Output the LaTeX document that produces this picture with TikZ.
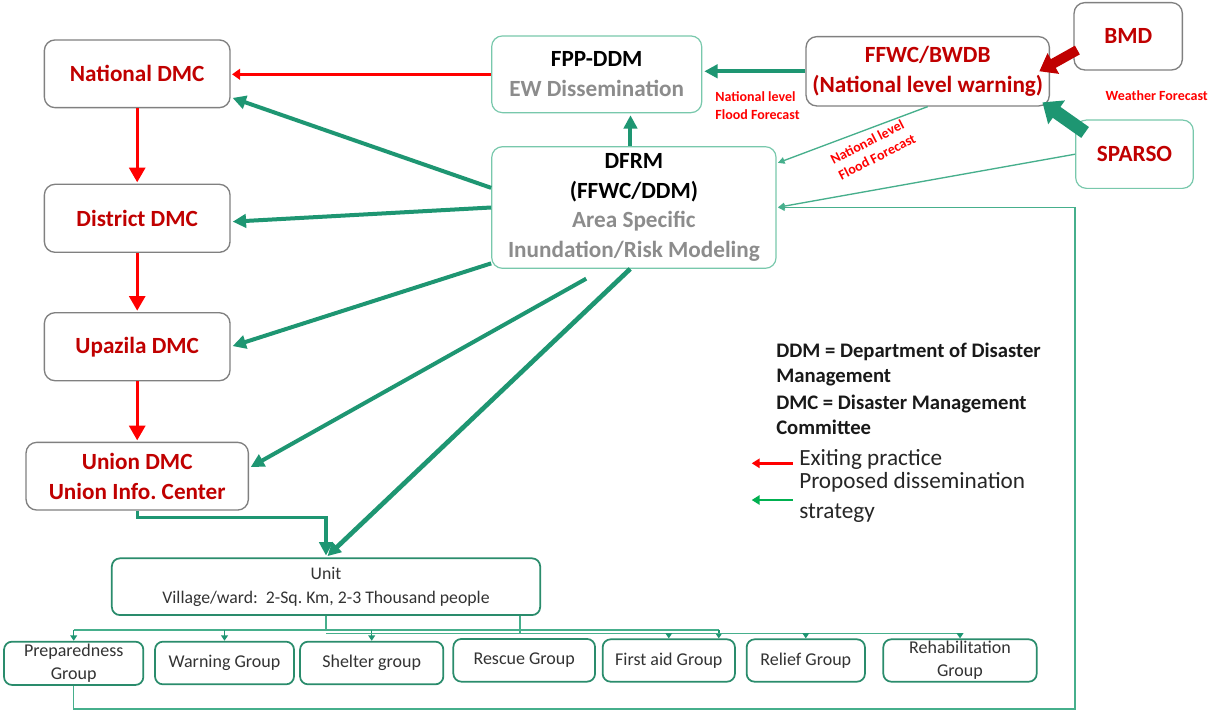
\documentclass[tikz,border=0pt]{standalone}
\usepackage{fontspec}
\setmainfont{Carlito}
\usetikzlibrary{arrows.meta,calc}
\definecolor{tgreen}{RGB}{30,150,114}
\definecolor{lgreen}{RGB}{120,200,172}
\definecolor{dgreen}{RGB}{42,140,108}
\definecolor{rgreen}{RGB}{70,175,140}
\definecolor{dred}{RGB}{192,0,0}
\definecolor{bred}{RGB}{255,0,0}
\definecolor{boxgray}{RGB}{128,128,128}
\definecolor{txtgray}{RGB}{140,140,140}
\definecolor{leggreen}{RGB}{0,176,80}
\newcommand\myBig{\fontsize{17.4}{22.2}\selectfont}
\newcommand\myUnitF{\fontsize{13.3}{18.2}\selectfont}
\newcommand\myGrpF{\fontsize{13.5}{17}\selectfont}
\newcommand\myLegB{\fontsize{15.5}{19.4}\selectfont}
\newcommand\myLegR{\fontsize{17.4}{22}\selectfont}
\newcommand\mySmall{\fontsize{10.5}{13.2}\selectfont}
\begin{document}
\begin{tikzpicture}[x=0.75pt,y=-0.75pt,
  sz/.style 2 args={minimum width=#1*0.75pt, minimum height=#2*0.75pt},
  dmcbox/.style={draw=boxgray, line width=1pt, rounded corners=8pt, fill=white, inner sep=0pt, align=center, text=dred, font=\myBig\bfseries},
  gbox/.style={draw=lgreen, line width=0.9pt, rounded corners=8pt, fill=white, inner sep=0pt, align=center, text=black, font=\myBig\bfseries},
  grpbox/.style={draw=dgreen, line width=1.3pt, rounded corners=6pt, fill=white, inner sep=0pt, align=center, text=black!80, font=\myGrpF},
  redbig/.style={draw=bred, line width=2.2pt, -{Triangle[length=11pt,width=12pt]}, shorten >=1pt},
  redarr/.style={draw=bred, line width=2.2pt, -{Triangle[length=6pt,width=8pt]}, shorten >=1pt},
  garr/.style={draw=tgreen, line width=3pt, -{Triangle[length=10pt,width=10pt]}, shorten >=1.5pt},
  thinarr/.style={draw=rgreen, line width=1pt, -{Triangle[length=5pt,width=5pt]}, shorten >=1pt},
  tline/.style={draw=rgreen, line width=1.1pt},
  tarr/.style={draw=tgreen, line width=1.1pt, -{Triangle[length=4pt,width=5pt]}},
  legb/.style={inner sep=0pt, anchor=west, font=\myLegB\bfseries, text=black!90, text height=0.68em, text depth=0.2em},
  legr/.style={inner sep=0pt, anchor=west, font=\myLegR, text=black!85, text height=0.68em, text depth=0.2em},
  smlab/.style={inner sep=0pt, align=left, font=\mySmall\bfseries, text=bred}]
\useasboundingbox (0,0) rectangle (1220,714);
\fill[white] (0,0) rectangle (1220,714);

% left column
\node[dmcbox, sz={185.7}{67.7}] (ndmc) at (137.2,73.8) {National DMC};
\node[dmcbox, sz={185.7}{68}] (ddmc) at (137.2,218.3) {District DMC};
\node[dmcbox, sz={185.7}{68}] (udmc) at (137.2,346.7) {Upazila DMC};
\node[dmcbox, sz={222.3}{67.7}] (union) at (137.2,476.2) {Union DMC\\Union Info.\ Center};

% top
\node[gbox, sz={210}{76.7}] (fpp) at (596.7,74.3) {FPP-DDM\\\textcolor{txtgray}{EW Dissemination}};
\node[gbox, sz={284.3}{121.6}] (dfrm) at (633.9,207.5) {DFRM\\(FFWC/DDM)\\\textcolor{txtgray}{Area Specific}\\\textcolor{txtgray}{Inundation/Risk Modeling}};
\node[dmcbox, sz={243.3}{69.3}] (ffwc) at (927.7,71.3) {FFWC/BWDB\\(National level warning)};
\node[dmcbox, sz={108.3}{67.3}] (bmd) at (1128.2,36.3) {BMD};
\node[gbox, text=dred, sz={117.6}{68.3}] (sparso) at (1134.5,154.2) {SPARSO};

% unit and groups
\node[grpbox, font=\myUnitF, sz={428.3}{56.7}] (unit) at (326,586.7) {Unit\\Village/ward:\ \ 2-Sq.\ Km, 2-3 Thousand people};
\node[grpbox, sz={139.3}{43.3}] (prep) at (73.7,663.3) {Preparedness\\Group};
\node[grpbox, sz={139}{42.7}] (warn) at (224.5,663) {Warning Group};
\node[grpbox, sz={143.3}{42.7}] (shel) at (371.7,663) {Shelter group};
\node[grpbox, sz={141.7}{42.7}] (resc) at (524.2,660.3) {Rescue Group};
\node[grpbox, sz={132.3}{42.4}] (fa) at (668.8,660.5) {First aid Group};
\node[grpbox, sz={118.3}{42.4}] (rel) at (805.8,660.5) {Relief Group};
\node[grpbox, sz={153.4}{42.4}] (reh) at (960,660.5) {Rehabilitation\\Group};

% labels
\node[smlab] (fl1) at (757.5,105.5) {National level\\Flood Forecast};
\node[smlab, rotate=27] (fl2) at (873,149) {National level\\Flood Forecast};
\node[smlab] (wf) at (1156.7,95.7) {Weather Forecast};

% red (existing) arrows
\draw[redarr] (fpp.west) -- (fpp.west -| ndmc.east);
\draw[redbig] (ndmc.south) -- (ddmc.north);
\draw[redbig] (ddmc.south) -- (udmc.north);
\draw[redbig] (udmc.south) -- (union.north);

% green arrows
\draw[garr] (ffwc.west) -- (ffwc.west -| fpp.east);
\coordinate (dn) at ($(dfrm.north west)!0.488!(dfrm.north east)$);
\draw[garr] (dn) -- (dn |- fpp.south);
\coordinate (d1) at ($(dfrm.north west)!0.34!(dfrm.south west)$);
\coordinate (d3) at ($(dfrm.north west)!0.955!(dfrm.south west)$);
\coordinate (d4) at ($(dfrm.south west)!0.394!(dfrm.south east)$);
\coordinate (d5) at ($(dfrm.south west)!0.487!(dfrm.south east)$);
\coordinate (n1) at ($(ndmc.north east)!0.84!(ndmc.south east)$);
\coordinate (n2) at ($(ddmc.north east)!0.55!(ddmc.south east)$);
\coordinate (n4) at ($(union.north east)!0.38!(union.south east)$);
\draw[garr] (d1) -- (n1);
\draw[garr] (dfrm.west) -- (n2);
\draw[garr] (d3) -- (udmc.east);
\draw[garr, shorten <=15pt] (d4) -- (n4);
\draw[garr, line width=3.5pt] (d5) -- (unit.north);
\draw[garr, line width=2.4pt] (union.south) -- ++(0,7) -| (unit.north);

% block arrows into FFWC
\draw[draw=dred, line width=7.5pt, -{Triangle[length=12pt,width=17pt]}] ($(bmd.north west)!0.7!(bmd.south west)+(4,0)$) -- ([xshift=-8pt]ffwc.east);
\draw[draw=tgreen, line width=10pt, -{Triangle[length=13pt,width=21pt]}] ($(sparso.north west)+(10,13)$) -- ([xshift=-5.7pt,yshift=3.2pt]ffwc.south east);

% thin arrows into DFRM
\draw[thinarr] (ffwc.south) -- ($(dfrm.north east)!0.14!(dfrm.south east)$);
\draw[thinarr] (sparso.west) -- (dfrm.east);
\coordinate (r1) at ($(sparso.west |- prep.south)+(0,23.3)$);
\draw[thinarr, draw=rgreen] (prep.south) |- (r1) |- (dfrm.east);

% tree
\coordinate (ta) at ($(unit.south)+(0,14)$);
\coordinate (tb0) at ($(unit.south)+(194,0)$);
\coordinate (tb) at ($(unit.south)+(194,17.5)$);
\coordinate (fa2) at ($(fa.north)+(50,0)$);
\draw[tline] (unit.south) -- (ta);
\draw[tline] (prep.north |- ta) -- (fa2 |- ta);
\foreach \g in {prep,warn,shel} \draw[tarr] (\g.north |- ta) -- (\g.north);
\draw[tarr] (fa2 |- ta) -- (fa2);
\draw[tline] (tb0) -- (tb);
\draw[tline] (ta |- tb) -- (reh.north |- tb);
\foreach \g in {fa,rel,reh} \draw[tarr] (\g.north |- tb) -- (\g.north);

% legend
\node[legb] (l1) at (776,354) {DDM = Department of Disaster};
\node[legb] (l2) at (776,379.3) {Management};
\node[legb] (l3) at (776,406) {DMC = Disaster Management};
\node[legb] (l4) at (776,431.7) {Committee};
\coordinate (lr1) at (792.7,463.3);
\coordinate (lr2) at (751.7,463.3);
\draw[draw=bred, line width=2.2pt, -{Triangle[length=6pt,width=7pt]}] (lr1) -- (lr2);
\node[legr] (l5) at (799,462) {Exiting practice};
\node[legr] (l6) at (799,485.7) {Proposed dissemination};
\node[legr] (l7) at (799,515) {strategy};
\coordinate (lg1) at (792.7,500);
\coordinate (lg2) at (751.7,500);
\draw[draw=leggreen, line width=2.2pt, -{Triangle[length=6pt,width=7pt]}] (lg1) -- (lg2);
\end{tikzpicture}
\end{document}
